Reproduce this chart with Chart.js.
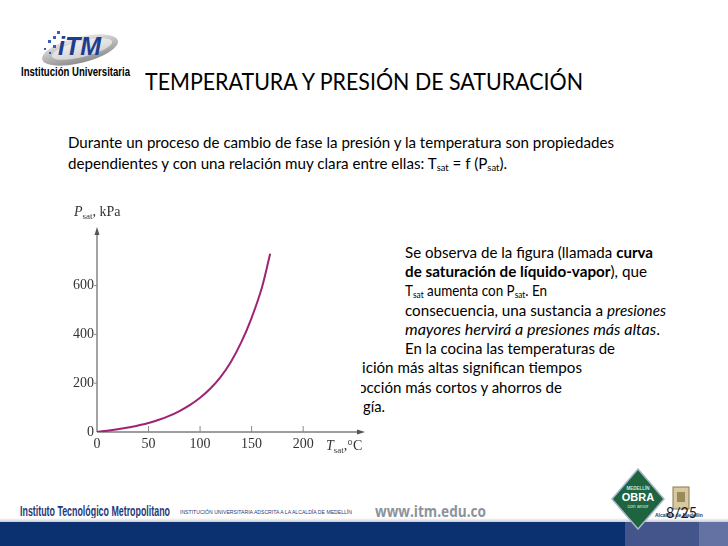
<!DOCTYPE html>
<html><head><meta charset="utf-8">
<script src="https://cdn.jsdelivr.net/npm/chart.js@4.4.0/dist/chart.umd.min.js"></script>
<style>
html,body{margin:0;padding:0}
body{width:728px;height:546px;overflow:hidden;background:#fff;position:relative;font-family:Lato,"Open Sans",sans-serif;color:#000}
.t{position:absolute;white-space:nowrap;line-height:1;transform-origin:0 0}
.t sub{font-size:0.62em;vertical-align:-0.25em;line-height:0}
#mask{position:absolute;left:300px;top:356px;width:61px;height:64px;background:#fff;z-index:2}
#chartBox{position:absolute;left:55px;top:195px;width:313px;height:265px;z-index:3}
.narrow{font-family:"Liberation Sans Narrow","Liberation Sans",sans-serif;font-weight:bold}
</style></head><body>

<!-- header logo -->
<svg style="position:absolute;left:36px;top:22px" width="86" height="46" viewBox="0 0 86 46">
  <defs><linearGradient id="g1" x1="0" y1="0" x2="0" y2="1"><stop offset="0" stop-color="#e6e6e6"/><stop offset="1" stop-color="#8d8d8d"/></linearGradient></defs>
  <ellipse cx="44" cy="28" rx="39" ry="13" transform="rotate(-14 44 28)" fill="url(#g1)"/>
  <ellipse cx="46" cy="27" rx="31" ry="8" transform="rotate(-14 46 27)" fill="#fff" opacity="0.55"/>
  <g fill="#3b5fb0"><rect x="12" y="18" width="3" height="3"/><rect x="17" y="14" width="3" height="3"/><rect x="17" y="23" width="3" height="3"/><rect x="8" y="26" width="2" height="2"/><rect x="13" y="30" width="2" height="2"/><rect x="21" y="9" width="3" height="3"/></g>
  <text x="22" y="33" font-family="Liberation Sans" font-weight="bold" font-style="italic" font-size="25" fill="#1d3d8f">iTM</text>
</svg>
<div class="t narrow" style="left:21px;top:66px;font-size:12px" data-w="109">Institución Universitaria</div>

<div class="t" style="left:145px;top:69px;font-size:24px" data-w="438">TEMPERATURA Y PRESIÓN DE SATURACIÓN</div>

<div class="t" style="left:68px;top:135px;font-size:15px" data-w="546">Durante un proceso de cambio de fase la presión y la temperatura son propiedades</div>
<div class="t" style="left:68px;top:156px;font-size:15px" data-w="439">dependientes y con una relación muy clara entre ellas: T<sub>sat</sub> = f (P<sub>sat</sub>).</div>

<div class="t" style="left:405px;top:245px;font-size:15px" data-w="248">Se observa de la figura (llamada <b>curva</b></div>
<div class="t" style="left:405px;top:264px;font-size:15px" data-w="242"><b>de saturación de líquido-vapor</b>), que</div>
<div class="t" style="left:405px;top:283px;font-size:15px" data-w="142">T<sub>sat</sub> aumenta con P<sub>sat</sub>. En</div>
<div class="t" style="left:405px;top:303px;font-size:15px" data-w="261">consecuencia, una sustancia a <i>presiones</i></div>
<div class="t" style="left:405px;top:322px;font-size:15px" data-w="255"><i>mayores hervirá a presiones más altas</i>.</div>
<div class="t" style="left:405px;top:341px;font-size:15px" data-w="210">En la cocina las temperaturas de</div>
<div class="t" style="left:330px;top:360px;font-size:15px">ebull</div>
<div class="t" style="left:362px;top:360px;font-size:15px" data-w="220">ición más altas significan tiempos</div>
<div class="t" style="left:330px;top:380px;font-size:15px">de c</div>
<div class="t" style="left:358px;top:380px;font-size:15px" data-w="204">occión más cortos y ahorros de</div>
<div class="t" style="left:330px;top:399px;font-size:15px">ener</div>
<div class="t" style="left:363px;top:399px;font-size:15px" data-w="22">gía.</div>
<div id="mask"></div>

<div id="chartBox"><canvas id="c" width="313" height="265"></canvas></div>

<!-- footer -->
<div class="t narrow" style="left:20px;top:504px;font-size:14px;color:#1f3a78" data-w="150">Instituto Tecnológico Metropolitano</div>
<div class="t" style="left:180px;top:509px;font-size:6px;color:#1f3a78;font-family:'Liberation Sans'" data-w="172">INSTITUCIÓN UNIVERSITARIA ADSCRITA A LA ALCALDÍA DE MEDELLÍN</div>
<div class="t" style="left:375px;top:503px;font-size:16px;color:#8d929b;font-weight:bold;font-family:'Open Sans',sans-serif" data-w="111">www.itm.edu.co</div>
<div style="position:absolute;left:0;top:518px;width:728px;height:4px;background:linear-gradient(#ffffff,#c9cdd6)"></div>
<div style="position:absolute;left:0;top:522px;width:728px;height:24px;background:#0c3170"></div>
<div style="position:absolute;left:625px;top:522px;width:74px;height:24px;background:#43558a"></div>
<div style="position:absolute;left:699px;top:522px;width:29px;height:24px;background:#6472a3"></div>
<svg style="position:absolute;left:611px;top:468px" width="54" height="62" viewBox="0 0 54 62">
  <polygon points="27,1 53,31 27,61 1,31" fill="#1f6440" stroke="#a9b7c9" stroke-width="1.5"/>
  <text x="27" y="22" text-anchor="middle" font-family="Liberation Sans" font-size="4.5" fill="#cfe8d6" font-weight="bold">MEDELLÍN</text>
  <text x="27" y="33" text-anchor="middle" font-family="Liberation Sans" font-size="11" fill="#fff" font-weight="bold">OBRA</text>
  <text x="27" y="40" text-anchor="middle" font-family="Liberation Sans" font-size="5" fill="#cfe8d6">con amor</text>
</svg>
<svg style="position:absolute;left:671px;top:486px" width="20" height="26" viewBox="0 0 20 26">
  <rect x="2" y="1" width="16" height="22" fill="#d8c9a0" stroke="#8a7a55" stroke-width="1"/>
  <rect x="6" y="6" width="8" height="10" fill="#9a8a5a"/>
</svg>
<div class="t" style="left:655px;top:513px;font-size:5px;color:#1f3a78;font-family:'Liberation Sans';font-weight:bold">Alcaldía de Medellín</div>
<div class="t" style="left:666px;top:504px;font-size:16px;color:#1a1a1a" data-w="31">8/25</div>

<script>
// Data
const temps = [0, 10, 20, 30, 40, 50, 60, 70, 80, 90, 100, 110, 120, 130, 140, 150, 160, 168];
const pressures = [0, 5, 11, 18, 27, 37, 50, 66, 86, 110, 140, 178, 226, 288, 368, 468, 592, 730];
const xTicks = [0, 50, 100, 150, 200];
const yTicks = [0, 200, 400, 600];
const xMax = 260;
const yMax = 840;

// fit text widths
document.querySelectorAll('.t[data-w]').forEach(el => {
  const w = el.getBoundingClientRect().width;
  const k = parseFloat(el.dataset.w) / w;
  el.style.transform = 'scaleX(' + k + ')';
});

const axisPlugin = {
  id: 'arrowAxes',
  beforeDatasetsDraw(chart) {
    const {ctx, chartArea: a, scales: {x, y}} = chart;
    const x0 = x.getPixelForValue(0), y0 = y.getPixelForValue(0);
    ctx.save();
    ctx.strokeStyle = '#7d7d7d';
    ctx.fillStyle = '#555';
    ctx.lineWidth = 1.4;
    ctx.beginPath();
    ctx.moveTo(x0, y0); ctx.lineTo(x0, a.top + 6);
    ctx.moveTo(x0, y0); ctx.lineTo(a.right - 6, y0);
    ctx.stroke();
    // arrow heads
    ctx.beginPath();
    ctx.moveTo(x0, a.top); ctx.lineTo(x0 - 2.5, a.top + 8); ctx.lineTo(x0 + 2.5, a.top + 8); ctx.closePath(); ctx.fill();
    ctx.beginPath();
    ctx.moveTo(a.right, y0); ctx.lineTo(a.right - 8, y0 - 2.5); ctx.lineTo(a.right - 8, y0 + 2.5); ctx.closePath(); ctx.fill();
    // tick marks
    ctx.lineWidth = 1;
    ctx.strokeStyle = '#8a8a8a';
    ctx.beginPath();
    yTicks.forEach(v => { if (v > 0) { const p = y.getPixelForValue(v); ctx.moveTo(x0 - 3, p); ctx.lineTo(x0, p); } });
    xTicks.forEach(v => { if (v > 0) { const p = x.getPixelForValue(v); ctx.moveTo(p, y0); ctx.lineTo(p, y0 - 6); } });
    ctx.stroke();
    ctx.restore();
  },
  afterDraw(chart) {
    const {ctx, chartArea: a, scales: {x, y}} = chart;
    const x0 = x.getPixelForValue(0), y0 = y.getPixelForValue(0);
    ctx.save();
    ctx.fillStyle = '#333';
    ctx.textBaseline = 'alphabetic';
    // y title
    let px = x0 - 23, py = a.top - 11;
    ctx.font = 'italic 14px "Liberation Serif", serif';
    ctx.fillText('P', px, py); px += ctx.measureText('P').width;
    ctx.font = '9px "Liberation Serif", serif';
    ctx.fillText('sat', px, py + 3); px += ctx.measureText('sat').width;
    ctx.font = '14px "Liberation Serif", serif';
    ctx.fillText(', kPa', px, py);
    // x title
    px = a.right - 39; py = y0 + 18;
    ctx.font = 'italic 14px "Liberation Serif", serif';
    ctx.fillText('T', px, py); px += ctx.measureText('T').width;
    ctx.font = '9px "Liberation Serif", serif';
    ctx.fillText('sat', px, py + 3); px += ctx.measureText('sat').width;
    ctx.font = '14px "Liberation Serif", serif';
    ctx.fillText(',°C', px, py);
    ctx.restore();
  }
};

const tickFont = {family: '"Liberation Serif", serif', size: 14};
new Chart(document.getElementById('c'), {
  type: 'scatter',
  data: {
    datasets: [{
      data: temps.map((t, i) => ({x: t, y: pressures[i]})),
      showLine: true,
      borderColor: '#9e2373',
      borderWidth: 2,
      pointRadius: 0,
      cubicInterpolationMode: 'monotone',
      fill: false
    }]
  },
  options: {
    responsive: false,
    animation: false,
    layout: {padding: {top: 32, right: 3, left: 0, bottom: 0}},
    plugins: {legend: {display: false}, tooltip: {enabled: false}},
    scales: {
      x: {
        type: 'linear', min: 0, max: xMax,
        afterBuildTicks: s => { s.ticks = xTicks.map(v => ({value: v})); },
        afterFit: s => { s.height = 28; },
        grid: {display: false, drawTicks: false},
        border: {display: false},
        ticks: {padding: 4, color: '#333', font: tickFont, maxRotation: 0, autoSkip: false}
      },
      y: {
        type: 'linear', min: 0, max: yMax,
        afterBuildTicks: s => { s.ticks = yTicks.map(v => ({value: v})); },
        afterFit: s => { s.width = 42; },
        grid: {display: false, drawTicks: false},
        border: {display: false},
        ticks: {padding: 3, color: '#333', font: tickFont, autoSkip: false}
      }
    }
  },
  plugins: [axisPlugin]
});
</script>
</body></html>
